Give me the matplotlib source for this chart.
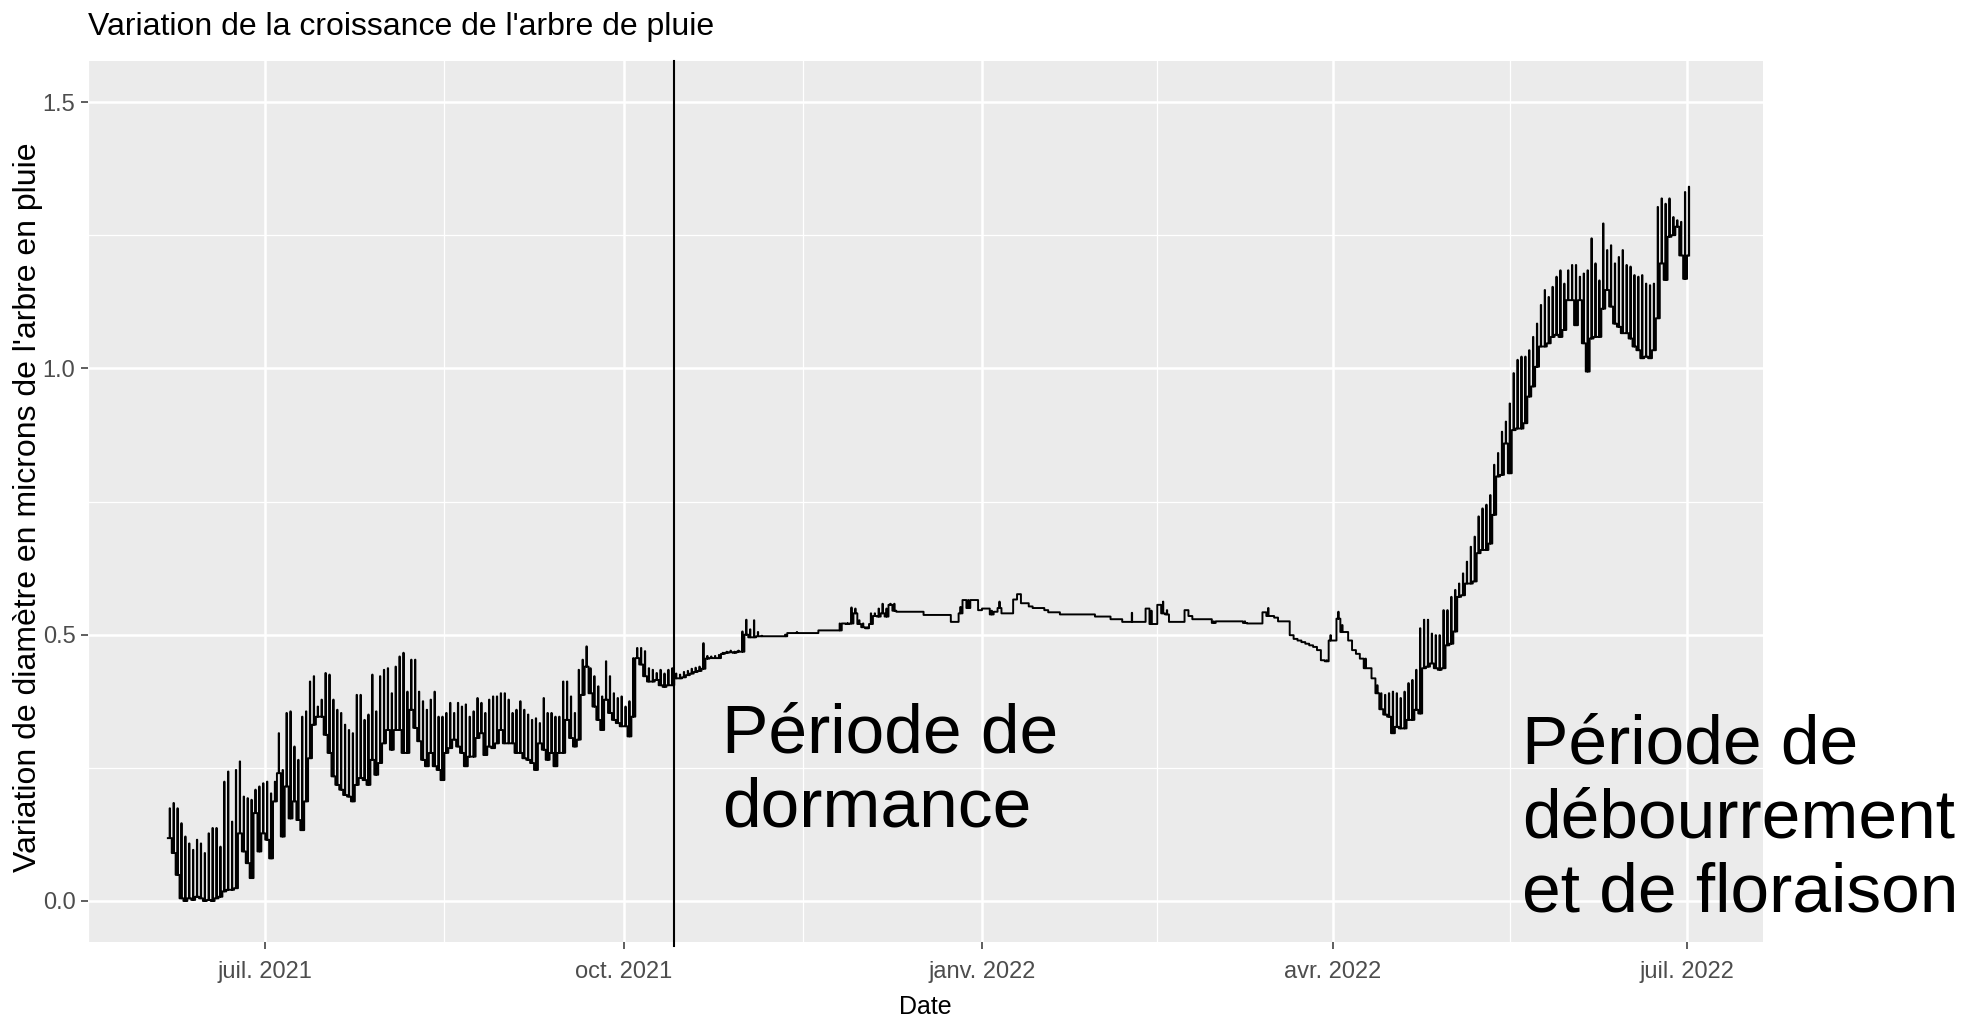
import matplotlib
matplotlib.use("Agg")
import numpy as np
import pandas as pd
import matplotlib.pyplot as plt

plt.rcParams['font.family'] = ['Liberation Sans', 'DejaVu Sans']

# valeurs journalières (max / min), à partir du 6 juin 2021
start_date = "2021-06-06"

daily_hi = [
    0.174, 0.184, 0.174, 0.146, 0.121, 0.108, 0.096, 0.115, 0.108, 0.090,
    0.127, 0.137, 0.137, 0.102, 0.224, 0.243, 0.149, 0.246, 0.262, 0.196,
    0.193, 0.190, 0.209, 0.215, 0.221, 0.224, 0.202, 0.224, 0.315, 0.246,
    0.353, 0.356, 0.290, 0.265, 0.346, 0.356, 0.412, 0.422, 0.365, 0.378,
    0.428, 0.425, 0.378, 0.359, 0.353, 0.331, 0.321, 0.315, 0.387, 0.387,
    0.340, 0.350, 0.425, 0.356, 0.422, 0.434, 0.437, 0.390, 0.440, 0.459,
    0.466, 0.393, 0.453, 0.453, 0.393, 0.375, 0.359, 0.378, 0.393, 0.346,
    0.346, 0.353, 0.372, 0.353, 0.372, 0.365, 0.369, 0.346, 0.356, 0.381,
    0.372, 0.353, 0.378, 0.384, 0.384, 0.390, 0.390, 0.378, 0.353, 0.359,
    0.375, 0.359, 0.350, 0.340, 0.343, 0.334, 0.381, 0.353, 0.353, 0.346,
    0.346, 0.412, 0.412, 0.384, 0.353, 0.434, 0.453, 0.478, 0.437, 0.422,
    0.403, 0.384, 0.450, 0.422, 0.390, 0.381, 0.384, 0.365, 0.375, 0.456,
    0.475, 0.475, 0.469, 0.437, 0.434, 0.428, 0.434, 0.427, 0.434, 0.437,
    0.427, 0.425, 0.430, 0.432, 0.436, 0.438, 0.440, 0.484, 0.460, 0.459,
    0.460, 0.462, 0.466, 0.468, 0.470, 0.468, 0.470, 0.506, 0.528, 0.510,
    0.527, 0.505, 0.498, 0.497, 0.497, 0.497, 0.497, 0.497, 0.500, 0.503,
    0.503, 0.505, 0.503, 0.503, 0.503, 0.503, 0.503, 0.508, 0.508, 0.508,
    0.508, 0.508, 0.521, 0.521, 0.522, 0.551, 0.549, 0.527, 0.521, 0.514,
    0.540, 0.540, 0.549, 0.558, 0.549, 0.558, 0.558, 0.543, 0.543, 0.543,
    0.543, 0.543, 0.543, 0.543, 0.537, 0.537, 0.537, 0.537, 0.537, 0.537,
    0.537, 0.524, 0.524, 0.552, 0.565, 0.565, 0.565, 0.565, 0.546, 0.549,
    0.549, 0.545, 0.543, 0.562, 0.540, 0.540, 0.540, 0.566, 0.576, 0.559,
    0.559, 0.553, 0.550, 0.550, 0.550, 0.546, 0.542, 0.542, 0.542, 0.538,
    0.538, 0.538, 0.538, 0.538, 0.538, 0.538, 0.538, 0.538, 0.534, 0.534,
    0.534, 0.534, 0.529, 0.529, 0.529, 0.524, 0.524, 0.541, 0.524, 0.524,
    0.524, 0.549, 0.545, 0.520, 0.556, 0.562, 0.546, 0.524, 0.524, 0.524,
    0.524, 0.546, 0.535, 0.529, 0.529, 0.529, 0.529, 0.529, 0.525, 0.525,
    0.525, 0.525, 0.525, 0.525, 0.525, 0.525, 0.525, 0.521, 0.521, 0.521,
    0.521, 0.542, 0.550, 0.535, 0.532, 0.525, 0.525, 0.525, 0.499, 0.492,
    0.489, 0.486, 0.483, 0.480, 0.477, 0.471, 0.452, 0.452, 0.499, 0.489,
    0.543, 0.518, 0.505, 0.489, 0.471, 0.464, 0.455, 0.455, 0.437, 0.418,
    0.405, 0.390, 0.387, 0.390, 0.393, 0.390, 0.381, 0.393, 0.409, 0.415,
    0.434, 0.512, 0.528, 0.528, 0.502, 0.499, 0.499, 0.546, 0.546, 0.571,
    0.584, 0.596, 0.615, 0.637, 0.665, 0.684, 0.722, 0.737, 0.744, 0.762,
    0.819, 0.841, 0.881, 0.900, 0.934, 0.991, 1.016, 1.022, 1.022, 1.034,
    1.059, 1.084, 1.119, 1.147, 1.134, 1.153, 1.172, 1.184, 1.159, 1.184,
    1.194, 1.194, 1.172, 1.178, 1.184, 1.244, 1.197, 1.165, 1.272, 1.222,
    1.231, 1.197, 1.209, 1.222, 1.194, 1.191, 1.175, 1.172, 1.175, 1.159,
    1.156, 1.159, 1.303, 1.319, 1.309, 1.319, 1.284, 1.278, 1.275, 1.331,
    1.341,
]

daily_lo = [
    0.118, 0.090, 0.049, 0.005, 0.000, 0.005, 0.002, 0.008, 0.005, 0.000,
    0.002, 0.000, 0.005, 0.008, 0.018, 0.021, 0.021, 0.024, 0.127, 0.093,
    0.071, 0.043, 0.165, 0.093, 0.127, 0.115, 0.080, 0.187, 0.240, 0.121,
    0.215, 0.155, 0.187, 0.152, 0.133, 0.187, 0.268, 0.331, 0.346, 0.346,
    0.312, 0.278, 0.234, 0.218, 0.209, 0.199, 0.196, 0.187, 0.218, 0.231,
    0.227, 0.218, 0.265, 0.237, 0.259, 0.296, 0.321, 0.284, 0.321, 0.321,
    0.278, 0.278, 0.359, 0.325, 0.300, 0.265, 0.253, 0.278, 0.253, 0.246,
    0.227, 0.278, 0.287, 0.303, 0.290, 0.278, 0.253, 0.271, 0.271, 0.306,
    0.315, 0.274, 0.290, 0.287, 0.296, 0.321, 0.296, 0.296, 0.296, 0.278,
    0.278, 0.268, 0.265, 0.259, 0.246, 0.296, 0.284, 0.265, 0.278, 0.253,
    0.278, 0.278, 0.340, 0.306, 0.290, 0.303, 0.387, 0.440, 0.390, 0.365,
    0.340, 0.321, 0.378, 0.353, 0.340, 0.334, 0.328, 0.328, 0.309, 0.346,
    0.456, 0.444, 0.422, 0.412, 0.412, 0.415, 0.405, 0.402, 0.405, 0.405,
    0.418, 0.418, 0.420, 0.424, 0.427, 0.430, 0.432, 0.436, 0.455, 0.456,
    0.456, 0.456, 0.464, 0.466, 0.467, 0.466, 0.468, 0.468, 0.500, 0.495,
    0.495, 0.497, 0.497, 0.497, 0.497, 0.497, 0.497, 0.497, 0.497, 0.503,
    0.503, 0.503, 0.503, 0.503, 0.503, 0.503, 0.503, 0.508, 0.508, 0.508,
    0.508, 0.508, 0.508, 0.521, 0.520, 0.521, 0.540, 0.520, 0.514, 0.512,
    0.520, 0.535, 0.534, 0.540, 0.534, 0.556, 0.545, 0.543, 0.543, 0.543,
    0.543, 0.543, 0.543, 0.543, 0.537, 0.537, 0.537, 0.537, 0.537, 0.537,
    0.537, 0.524, 0.524, 0.540, 0.565, 0.550, 0.565, 0.565, 0.546, 0.549,
    0.549, 0.538, 0.543, 0.550, 0.540, 0.540, 0.540, 0.566, 0.576, 0.559,
    0.559, 0.553, 0.550, 0.550, 0.550, 0.546, 0.542, 0.542, 0.542, 0.538,
    0.538, 0.538, 0.538, 0.538, 0.538, 0.538, 0.538, 0.538, 0.534, 0.534,
    0.534, 0.534, 0.529, 0.529, 0.529, 0.524, 0.524, 0.524, 0.524, 0.524,
    0.524, 0.549, 0.520, 0.520, 0.556, 0.540, 0.538, 0.524, 0.524, 0.524,
    0.524, 0.546, 0.535, 0.529, 0.529, 0.529, 0.529, 0.529, 0.522, 0.525,
    0.525, 0.525, 0.525, 0.525, 0.525, 0.525, 0.522, 0.521, 0.521, 0.521,
    0.521, 0.542, 0.535, 0.535, 0.532, 0.525, 0.525, 0.525, 0.499, 0.492,
    0.489, 0.486, 0.483, 0.480, 0.477, 0.471, 0.452, 0.450, 0.489, 0.489,
    0.530, 0.505, 0.505, 0.489, 0.471, 0.464, 0.455, 0.437, 0.437, 0.418,
    0.390, 0.360, 0.350, 0.346, 0.315, 0.327, 0.324, 0.324, 0.340, 0.340,
    0.359, 0.352, 0.437, 0.440, 0.446, 0.437, 0.434, 0.437, 0.480, 0.483,
    0.506, 0.571, 0.574, 0.596, 0.596, 0.600, 0.653, 0.659, 0.659, 0.671,
    0.725, 0.797, 0.800, 0.859, 0.803, 0.884, 0.887, 0.887, 0.897, 0.947,
    0.966, 1.003, 1.041, 1.041, 1.047, 1.059, 1.063, 1.059, 1.072, 1.128,
    1.128, 1.081, 1.128, 1.047, 0.994, 1.056, 1.059, 1.059, 1.112, 1.147,
    1.116, 1.084, 1.078, 1.066, 1.066, 1.056, 1.041, 1.034, 1.019, 1.022,
    1.019, 1.034, 1.094, 1.197, 1.166, 1.247, 1.250, 1.266, 1.212, 1.168,
    1.212,
]

tick_dates = ["2021-07-01", "2021-10-01", "2022-01-01", "2022-04-01", "2022-07-01"]
tick_labels = ["juil. 2021", "oct. 2021", "janv. 2022", "avr. 2022", "juil. 2022"]
minor_dates = ["2021-05-16 12:00", "2021-08-16 00:00", "2021-11-16 00:00",
               "2022-02-15 00:00", "2022-05-16 12:00"]
dormance_date = "2021-10-14"

assert len(daily_hi) == len(daily_lo)

# chaque jour : palier au minimum puis pic étroit jusqu'au maximum
dates = pd.date_range(start_date, periods=len(daily_hi), freq="D")
x = np.empty(3 * len(dates), dtype="datetime64[ns]")
x[0::3] = dates.values
x[1::3] = (dates + pd.Timedelta(hours=11)).values
x[2::3] = (dates + pd.Timedelta(hours=13)).values
y = np.empty(3 * len(dates))
y[0::3] = daily_lo
y[1::3] = daily_hi
y[2::3] = daily_lo

fig = plt.figure(figsize=(19.82, 10.24), dpi=100)
ax = fig.add_axes([88/1982, 1 - 942/1024, (1763-88)/1982, (942-61)/1024])
ax.set_facecolor("#EBEBEB")
for s in ax.spines.values():
    s.set_visible(False)

ax.plot(x, y, drawstyle="steps-post", color="black", lw=1.4)

# trait vertical ajouté (début de la dormance)
d0 = pd.Timestamp(dormance_date)
ax.plot([d0, d0], [1.0, -0.004], transform=ax.get_xaxis_transform(),
        color="black", lw=1.5, clip_on=False)

span = dates[-1] - dates[0]
ax.set_xlim(dates[0] - span * 0.05, dates[-1] + span * 0.05)
ax.set_ylim(-0.077, 1.577)

ax.set_xticks(pd.to_datetime(tick_dates))
ax.set_xticklabels(tick_labels)
ax.set_xticks(pd.to_datetime(minor_dates), minor=True)
ax.set_yticks([0.0, 0.5, 1.0, 1.5])
ax.set_yticklabels(["0.0", "0.5", "1.0", "1.5"])
ax.set_yticks([0.25, 0.75, 1.25], minor=True)

ax.set_axisbelow(True)
ax.grid(which="major", color="white", lw=1.8)
ax.grid(which="minor", color="white", lw=0.9)
ax.tick_params(which="major", length=5, width=1.1, color="#333333",
               labelcolor="#4D4D4D", labelsize=17, pad=4)
ax.tick_params(axis="x", which="major", pad=9)
ax.tick_params(which="minor", length=0)

fig.text(88/1982, 1 - 27/1024, "Variation de la croissance de l'arbre de pluie",
         fontsize=23, ha="left", va="center")
fig.text(925/1982, 1 - 1007/1024, "Date", fontsize=18, ha="center", va="center")
fig.text(28/1982, 1 - 507/1024, "Variation de diamètre en microns de l'arbre en pluie",
         fontsize=23, ha="center", va="center", rotation=90)

# textes ajoutés (la ligne de base donnée est celle de la dernière ligne)
fig.text(722/1982, 1 - 826.7/1024, "Période de\ndormance",
         fontsize=50, ha="left", va="baseline", linespacing=1.2)
fig.text(1522/1982, 1 - 911.7/1024, "Période de\ndébourrement\net de floraison",
         fontsize=50, ha="left", va="baseline", linespacing=1.2)

fig.savefig("out.png", dpi=100)
